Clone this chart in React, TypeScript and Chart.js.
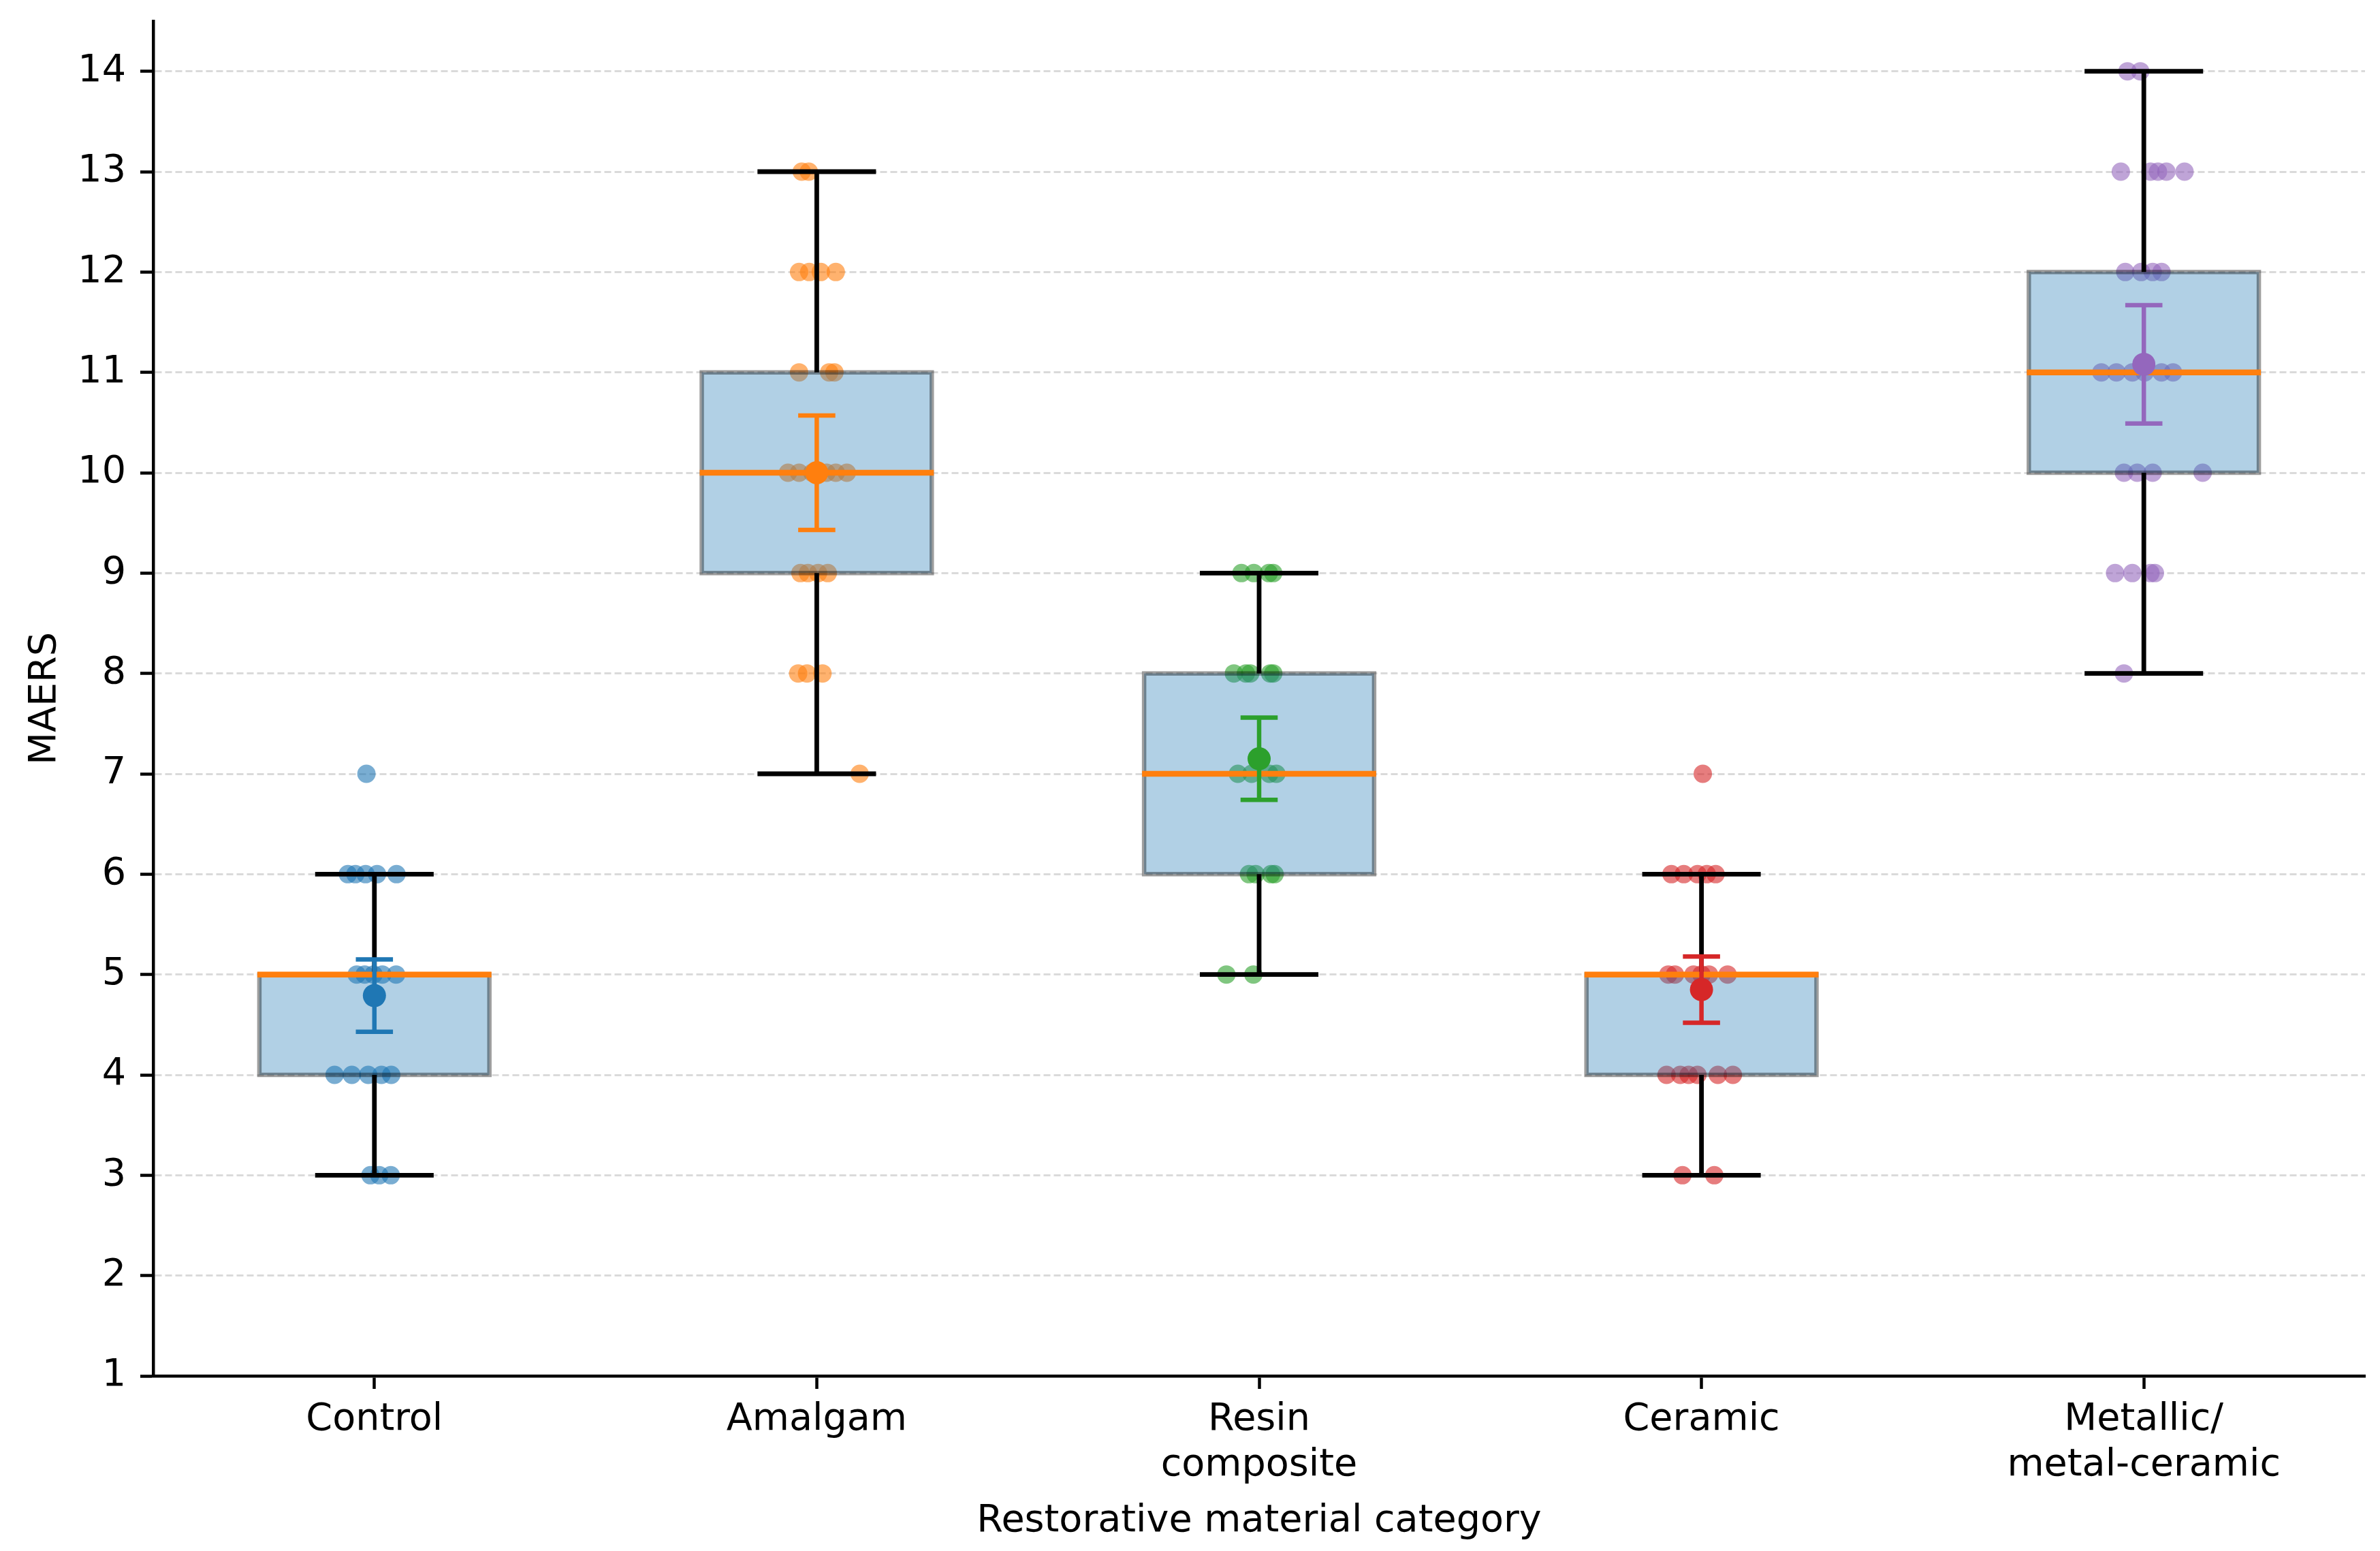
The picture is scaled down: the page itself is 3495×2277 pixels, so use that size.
import React, { useEffect, useRef } from "react";
import { Chart, registerables } from "chart.js";

Chart.register(...registerables);

// ---------- data ----------
const categories: string[][] = [
  ["Control"],
  ["Amalgam"],
  ["Resin", "composite"],
  ["Ceramic"],
  ["Metallic/", "metal-ceramic"],
];
const yTickValues = [1, 2, 3, 4, 5, 6, 7, 8, 9, 10, 11, 12, 13, 14];
const groupColors = ["#1f77b4", "#ff7f0e", "#2ca02c", "#d62728", "#9467bd"];
const pointColors = [
  "rgba(31,119,180,0.6)",
  "rgba(255,127,14,0.6)",
  "rgba(44,160,44,0.6)",
  "rgba(214,39,40,0.6)",
  "rgba(148,103,189,0.6)",
];

const controlValues = [7, 6, 6, 6, 6, 6, 5, 5, 5, 5, 5, 4, 4, 4, 4, 4, 3, 3, 3];
const controlJitter = [-0.018, -0.06, -0.043, -0.02, 0.006, 0.05, -0.04, -0.022, -0.002, 0.018, 0.049, -0.09, -0.051, -0.014, 0.016, 0.038, -0.009, 0.011, 0.037];

const amalgamValues = [13, 13, 12, 12, 12, 12, 11, 11, 11, 10, 10, 10, 10, 10, 10, 9, 9, 9, 9, 8, 8, 8, 7];
const amalgamJitter = [-0.034, -0.018, -0.04, -0.017, 0.009, 0.043, -0.04, 0.028, 0.04, -0.065, -0.04, -0.01, 0.022, 0.043, 0.068, -0.037, -0.02, 0.003, 0.025, -0.042, -0.022, 0.013, 0.097];

const resinValues = [9, 9, 9, 9, 8, 8, 8, 8, 8, 7, 7, 7, 7, 6, 6, 6, 6, 5, 5];
const resinJitter = [-0.04, -0.012, 0.022, 0.032, -0.057, -0.03, -0.02, 0.025, 0.032, -0.048, -0.017, 0.023, 0.039, -0.023, -0.008, 0.027, 0.035, -0.074, -0.013];

const ceramicValues = [7, 6, 6, 6, 6, 6, 5, 5, 5, 5, 5, 5, 4, 4, 4, 4, 4, 4, 3, 3];
const ceramicJitter = [0.003, -0.068, -0.04, -0.009, 0.012, 0.032, -0.075, -0.06, -0.018, 0.0, 0.017, 0.059, -0.079, -0.048, -0.029, -0.009, 0.037, 0.071, -0.043, 0.029];

const metallicValues = [14, 14, 13, 13, 13, 13, 13, 12, 12, 12, 12, 11, 11, 11, 11, 11, 11, 10, 10, 10, 10, 9, 9, 9, 9, 8];
const metallicJitter = [-0.037, -0.008, -0.052, 0.015, 0.032, 0.051, 0.092, -0.042, -0.006, 0.02, 0.04, -0.096, -0.062, -0.026, 0.002, 0.04, 0.066, -0.045, -0.015, 0.02, 0.133, -0.065, -0.026, 0.015, 0.025, -0.045];

const groupValues = [controlValues, amalgamValues, resinValues, ceramicValues, metallicValues];
const groupJitter = [controlJitter, amalgamJitter, resinJitter, ceramicJitter, metallicJitter];

const whiskerLow = [3, 7, 5, 3, 8];
const q1Values = [4, 9, 6, 4, 10];
const medianValues = [5, 10, 7, 5, 11];
const q3Values = [5, 11, 8, 5, 12];
const whiskerHigh = [6, 13, 9, 6, 14];
const meanValues = [4.79, 10.0, 7.15, 4.85, 11.08];
const meanError = [0.36, 0.57, 0.41, 0.33, 0.59];

// ---------- styling ----------
const FONT = "'DejaVu Sans', 'Liberation Sans', sans-serif";
const FONT_SIZE = 55.6;
const BOX_HALF = 0.26;
const CAP_HALF = 0.134;
const ERR_CAP_HALF = 0.042;

const boxPlugin = {
  id: "boxPlot",
  beforeDatasetDraw(chart: any, args: any) {
    const ds = chart.data.datasets[args.index];
    if (ds.label !== "Mean") return;
    const { ctx } = chart;
    const x = chart.scales.x;
    const y = chart.scales.y;
    ctx.save();
    ctx.setLineDash([]);
    ctx.lineCap = "butt";
    for (let i = 0; i < categories.length; i++) {
      const xl = x.getPixelForValue(i - BOX_HALF);
      const xr = x.getPixelForValue(i + BOX_HALF);
      const xc = x.getPixelForValue(i);
      const yq1 = y.getPixelForValue(q1Values[i]);
      const yq3 = y.getPixelForValue(q3Values[i]);
      // box
      ctx.fillStyle = "rgba(31,119,180,0.35)";
      ctx.fillRect(xl, yq3, xr - xl, yq1 - yq3);
      ctx.strokeStyle = "rgba(0,0,0,0.38)";
      ctx.lineWidth = 6.5;
      ctx.strokeRect(xl, yq3, xr - xl, yq1 - yq3);
      // whiskers
      const ylo = y.getPixelForValue(whiskerLow[i]);
      const yhi = y.getPixelForValue(whiskerHigh[i]);
      const cl = x.getPixelForValue(i - CAP_HALF);
      const cr = x.getPixelForValue(i + CAP_HALF);
      ctx.strokeStyle = "#000";
      ctx.lineWidth = 6.8;
      ctx.beginPath();
      ctx.moveTo(xc, yq1);
      ctx.lineTo(xc, ylo);
      ctx.moveTo(xc, yq3);
      ctx.lineTo(xc, yhi);
      ctx.moveTo(cl, ylo);
      ctx.lineTo(cr, ylo);
      ctx.moveTo(cl, yhi);
      ctx.lineTo(cr, yhi);
      ctx.stroke();
      // median
      const ym = y.getPixelForValue(medianValues[i]);
      ctx.strokeStyle = "#ff7f0e";
      ctx.lineWidth = 8.5;
      ctx.beginPath();
      ctx.moveTo(xl - 3, ym);
      ctx.lineTo(xr + 3, ym);
      ctx.stroke();
      // mean error bar
      const ey1 = y.getPixelForValue(meanValues[i] - meanError[i]);
      const ey2 = y.getPixelForValue(meanValues[i] + meanError[i]);
      const el = x.getPixelForValue(i - ERR_CAP_HALF);
      const er = x.getPixelForValue(i + ERR_CAP_HALF);
      ctx.strokeStyle = groupColors[i];
      ctx.lineWidth = 6.5;
      ctx.beginPath();
      ctx.moveTo(xc, ey1);
      ctx.lineTo(xc, ey2);
      ctx.moveTo(el, ey1);
      ctx.lineTo(er, ey1);
      ctx.moveTo(el, ey2);
      ctx.lineTo(er, ey2);
      ctx.stroke();
    }
    ctx.restore();
  },
};

export default function App() {
  const ref = useRef<HTMLCanvasElement>(null);

  useEffect(() => {
    if (!ref.current) return;
    const jitterSets = groupValues.map((vals, g) => ({
      label: categories[g].join(" "),
      type: "scatter" as const,
      data: vals.map((v, k) => ({ x: g + groupJitter[g][k], y: v })),
      backgroundColor: pointColors[g],
      borderWidth: 0,
      pointRadius: 13.5,
      pointHoverRadius: 13.5,
      order: 1,
    }));
    const meanSet = {
      label: "Mean",
      type: "scatter" as const,
      data: meanValues.map((m, g) => ({ x: g, y: m })),
      backgroundColor: groupColors,
      borderWidth: 0,
      pointRadius: 17,
      pointHoverRadius: 17,
      order: 0,
    };
    const chart = new Chart(ref.current, {
      type: "scatter",
      data: { datasets: [...jitterSets, meanSet] as any },
      plugins: [boxPlugin],
      options: {
        animation: false,
        responsive: false,
        devicePixelRatio: 1,
        layout: { padding: { top: 31, right: 22, left: 0, bottom: 0 } },
        plugins: { legend: { display: false }, tooltip: { enabled: false } },
        scales: {
          x: {
            type: "linear",
            min: -0.5,
            max: 4.5,
            afterBuildTicks: (scale: any) => {
              scale.ticks = categories.map((_, i) => ({ value: i }));
            },
            afterFit: (scale: any) => {
              scale.height = 257;
              scale.paddingLeft = 0;
              scale.paddingRight = 0;
            },
            grid: {
              display: true,
              drawOnChartArea: false,
              drawTicks: true,
              tickLength: 19,
              tickColor: "#000",
              tickWidth: 4.5,
            },
            border: { display: true, color: "#000", width: 4.5 },
            ticks: {
              autoSkip: false,
              maxRotation: 0,
              minRotation: 0,
              padding: 12,
              color: "#000",
              font: { family: FONT, size: FONT_SIZE, lineHeight: 1.2 },
              callback: (v: any) => {
                const c = categories[Math.round(Number(v))];
                return c ? (c.length === 1 ? c[0] : c) : "";
              },
            },
            title: {
              display: true,
              text: "Restorative material category",
              color: "#000",
              font: { family: FONT, size: FONT_SIZE, lineHeight: 1.2 },
              padding: { top: 0, bottom: 10 },
            },
          },
          y: {
            type: "linear",
            min: 1,
            max: 14.5,
            afterBuildTicks: (scale: any) => {
              scale.ticks = yTickValues.map((v) => ({ value: v }));
            },
            afterFit: (scale: any) => {
              scale.width = 225;
              scale.paddingTop = 0;
              scale.paddingBottom = 0;
            },
            grid: {
              display: true,
              drawOnChartArea: true,
              color: "#dadada",
              lineWidth: 3,
              drawTicks: true,
              tickLength: 19,
              tickColor: "#000",
              tickWidth: 4.5,
              tickBorderDash: [],
            },
            border: { display: true, color: "#000", width: 4.5, dash: [10, 5] },
            ticks: {
              padding: 21,
              color: "#000",
              font: { family: FONT, size: FONT_SIZE, lineHeight: 1.2 },
              callback: (v: any) => String(v),
            },
            title: {
              display: true,
              text: "MAERS",
              color: "#000",
              font: { family: FONT, size: FONT_SIZE, lineHeight: 1.2 },
              padding: { top: 33, bottom: 0 },
            },
          },
        },
      } as any,
    });
    return () => chart.destroy();
  }, []);

  return (
    <div style={{ position: "absolute", left: 0, top: 0, width: 3495, height: 2277, background: "#fff" }}>
      <canvas ref={ref} width={3495} height={2277} style={{ display: "block", width: 3495, height: 2277 }} />
    </div>
  );
}
